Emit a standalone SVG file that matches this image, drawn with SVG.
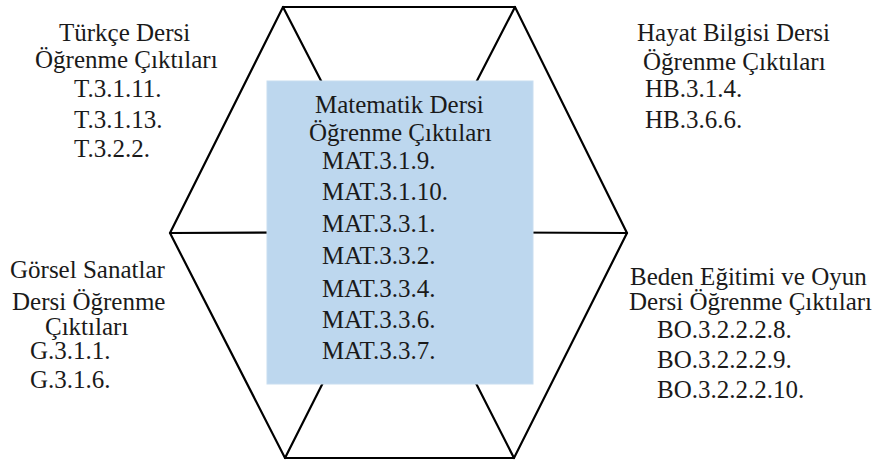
<svg xmlns="http://www.w3.org/2000/svg" width="876" height="461" viewBox="0 0 876 461">
  <style>
    .t { font-family: 'Liberation Serif', 'DejaVu Serif', 'Times New Roman', serif; font-size: 25px; fill: #1a1a1a; }
    .edge { stroke: #000; stroke-width: 2.2; fill: none; stroke-linecap: round; }
    .hex { stroke: #000; stroke-width: 2.2; fill: none; stroke-linejoin: miter; }
    .box { fill: #bdd7ee; stroke: #c8ddf0; stroke-width: 1; }
  </style>
  <rect width="876" height="461" fill="#fff"/>
  <g id="connectors">
    <line class="edge" x1="283" y1="7" x2="399" y2="232"/>
    <line class="edge" x1="515" y1="7" x2="399" y2="232"/>
    <line class="edge" x1="170" y1="233" x2="399" y2="232"/>
    <line class="edge" x1="627" y1="233" x2="399" y2="232"/>
    <line class="edge" x1="285" y1="458" x2="399" y2="232"/>
    <line class="edge" x1="514" y1="458" x2="399" y2="232"/>
  </g>
  <g id="hexagon">
    <polygon class="hex" points="283,7 515,7 627,233 514,458 285,458 170,233"/>
  </g>
  <g font-family="Liberation Serif, DejaVu Serif, serif">
  <g id="matematik">
    <rect class="box" x="267" y="81" width="266" height="303"/>
    <text class="t" x="315" y="113">Matematik Dersi</text>
    <text class="t" x="309" y="141">Öğrenme Çıktıları</text>
    <text class="t" x="322" y="169">MAT.3.1.9.</text>
    <text class="t" x="322" y="200">MAT.3.1.10.</text>
    <text class="t" x="322" y="232">MAT.3.3.1.</text>
    <text class="t" x="322" y="264">MAT.3.3.2.</text>
    <text class="t" x="322" y="297">MAT.3.3.4.</text>
    <text class="t" x="322" y="328">MAT.3.3.6.</text>
    <text class="t" x="322" y="359">MAT.3.3.7.</text>
  </g>
  <g id="turkce">
    <text class="t" x="59" y="41">Türkçe Dersi</text>
    <text class="t" x="35" y="68">Öğrenme Çıktıları</text>
    <text class="t" x="74" y="97">T.3.1.11.</text>
    <text class="t" x="74" y="128">T.3.1.13.</text>
    <text class="t" x="74" y="157">T.3.2.2.</text>
  </g>
  <g id="hayat-bilgisi">
    <text class="t" x="637" y="41">Hayat Bilgisi Dersi</text>
    <text class="t" x="643" y="70">Öğrenme Çıktıları</text>
    <text class="t" x="645" y="97">HB.3.1.4.</text>
    <text class="t" x="645" y="128">HB.3.6.6.</text>
  </g>
  <g id="gorsel-sanatlar">
    <text class="t" x="10" y="278">Görsel Sanatlar</text>
    <text class="t" x="12" y="310">Dersi Öğrenme</text>
    <text class="t" x="45" y="335">Çıktıları</text>
    <text class="t" x="30" y="359">G.3.1.1.</text>
    <text class="t" x="30" y="388">G.3.1.6.</text>
  </g>
  <g id="beden-egitimi">
    <text class="t" x="630" y="285">Beden Eğitimi ve Oyun</text>
    <text class="t" x="629" y="310">Dersi Öğrenme Çıktıları</text>
    <text class="t" x="657" y="338">BO.3.2.2.2.8.</text>
    <text class="t" x="657" y="368">BO.3.2.2.2.9.</text>
    <text class="t" x="657" y="398">BO.3.2.2.2.10.</text>
  </g>
  </g>
</svg>
